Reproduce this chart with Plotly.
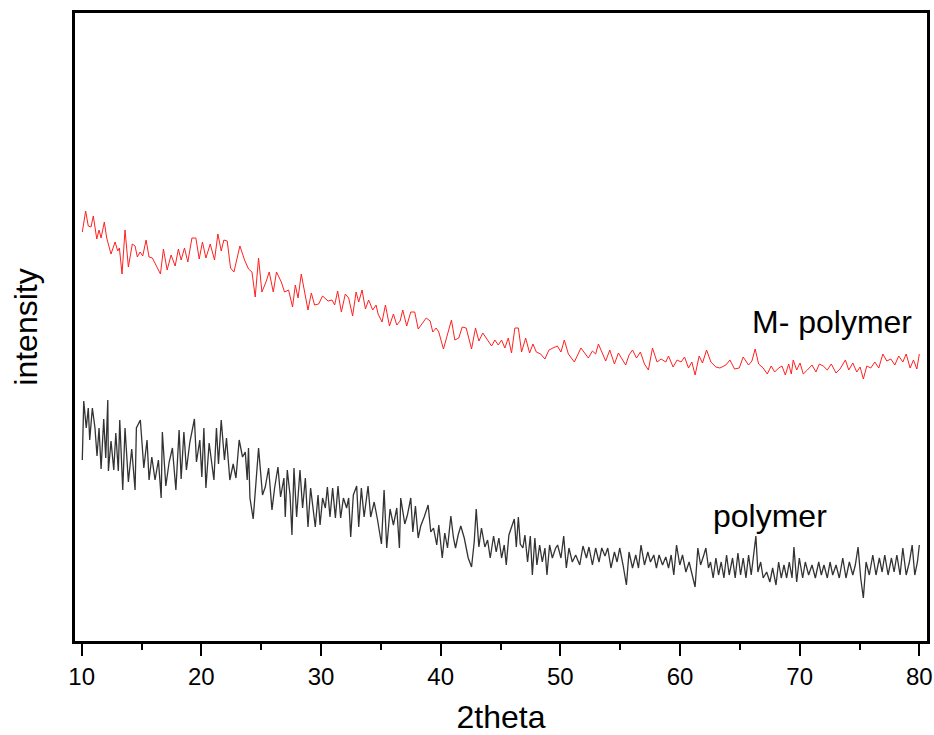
import plotly.graph_objects as go

# ---------------- data (2theta in degrees, intensity in a.u.) ----------------
m_polymer_2theta = (
    [10.05,10.33,10.55,10.78,10.97,11.26,11.45,11.62,11.89,12.09,
     12.45,12.79,13.01,13.15,13.37,13.62,13.90,14.23,14.46,14.65,
     14.88,15.10,15.38,15.63,15.91,16.22,16.58,16.83,17.14,17.47,
     17.81,18.08,18.31,18.59,18.87,19.21,19.54,19.82,20.09,20.38,
     20.74,21.10,21.38,21.66,21.88,22.16,22.44,22.72,23.22,23.61,
     23.94,24.23,24.50,24.78,25.06,25.40,25.67,26.01,26.28,26.68,
     26.95,27.29,27.62,27.85]
    + [28.08,28.35,28.63,28.91,29.19,29.46,29.80,30.13,30.59,30.92,
       31.14,31.39,31.70,32.03,32.31,32.64,32.93,33.15,33.43,33.71,
       33.98,34.32,34.60,34.77,35.10,35.38,35.72,36.05,36.33,36.61,
       36.83,37.16,37.50,37.83,38.12,38.45,38.79,39.12,39.34,39.62,
       39.84,40.23,40.63,40.90,41.18,41.51,41.80,42.13,42.58,42.91,
       43.19,43.52,43.86,44.25,44.53,44.81,45.09,45.36]
    + [45.65,45.92,46.20,46.49,46.76,47.10,47.43,47.71,47.99,48.35,
       48.71,49.05,49.38,49.75,50.05,50.33,50.67,51.17,51.72,52.06,
       52.34,52.68,52.95,53.18,53.51,53.79,54.13,54.52,54.85,55.13,
       55.46,55.74,56.03,56.36,56.69,57.03,57.36,57.70,58.08,58.42,
       58.81,59.04,59.42,59.76,60.09,60.38,60.71,60.99,61.26,61.60,
       61.88,62.22,62.58,63.00]
    + [63.33,63.83,64.17,64.56,64.95,65.28,65.73,66.01,66.28,66.57,
       66.95,67.29,67.62,67.91,68.24,68.52,68.80,69.08,69.30,69.46,
       69.75,70.03,70.30,70.64,71.03,71.36,71.64,71.97,72.31,72.64,
       73.04,73.37,73.82,74.10,74.44,74.77,75.05,75.32,75.61,75.94,
       76.28,76.61,76.95,77.28,77.62,77.95,78.28,78.62,78.90,79.23,
       79.51,79.79,80.00]
)
m_polymer_intensity = (
    [409,430,415,414,425,402,411,403,419,403,
     387,399,390,393,367,411,374,397,395,384,
     389,385,401,384,383,376,367,392,371,386,
     375,392,381,393,379,403,403,382,399,383,
     397,381,407,390,401,400,373,369,395,381,
     372,369,344,383,349,359,369,349,369,359,
     349,351,334,356]
    + [343,367,349,331,348,336,337,345,340,341,
       336,350,329,347,343,325,349,339,351,332,
       341,331,336,327,319,336,315,327,316,320,
       331,315,329,329,312,317,323,320,309,313,
       309,292,310,321,301,303,314,313,292,313,
       300,308,302,295,301,296,301,293]
    + [303,288,313,313,289,303,288,297,289,287,
       282,291,293,295,289,301,287,279,293,287,
       283,290,287,297,287,280,291,277,288,283,
       276,286,291,283,289,277,271,293,279,282,
       279,285,274,281,279,284,273,279,266,285,
       278,291,279,274]
    + [273,276,281,272,273,284,276,280,292,277,
       273,267,275,269,273,275,266,277,267,281,
       271,278,267,271,276,269,277,275,271,277,
       268,272,281,271,278,269,274,262,275,273,
       279,273,287,280,282,276,285,279,287,273,
       281,272,287]
)

polymer_2theta = (
    [10.05,10.17,10.38,10.55,10.67,10.89,11.11,11.28,11.45,11.62,
     11.84,12.01,12.18,12.23,12.45,12.68,12.85,13.06,13.18,13.43,
     13.62,13.90,14.18,14.46,14.57,14.90,15.19,15.46,15.63,15.86,
     16.13,16.41,16.64,16.74,17.03,17.31,17.58,17.87,18.14,18.31,
     18.54,18.75,19.04,19.42,19.59,19.87,20.04,20.21,20.38,20.65,
     21.05,21.26,21.43,21.66,21.93,22.10,22.38,22.66,22.89,23.16,
     23.44,23.67,23.83,23.94,24.06,24.33,24.56,24.78,25.11,25.34,
     25.62,25.90,26.12,26.40,26.62,26.90,27.01,27.18,27.41,27.57,
     27.74]
    + [27.96,28.24,28.46,28.69,28.91,29.13,29.30,29.52,29.75,29.92,
       30.13,30.36,30.53,30.75,30.97,31.20,31.42,31.64,31.87,32.14,
       32.31,32.48,32.70,32.98,33.15,33.37,33.60,33.93,34.15,34.44,
       34.71,35.05,35.27,35.49,35.77,36.05,36.33,36.55,36.66,37.00,
       37.22,37.50,37.67,37.89,38.12,38.33,38.62,38.95,39.17,39.40,
       39.67,39.84,40.13,40.34,40.57,40.85,41.07,41.24,41.46,41.68,
       41.97,42.30,42.58,42.80,42.97,43.19,43.41,43.69,43.92,44.14,
       44.42,44.64,44.86,45.09,45.31]
    + [45.48,45.70,45.92,46.15,46.32,46.49,46.65,46.87,47.04,47.26,
       47.49,47.66,47.87,48.04,48.27,48.49,48.71,48.88,49.10,49.33,
       49.61,49.77,50.05,50.28,50.50,50.72,51.00,51.28,51.62,51.89,
       52.18,52.39,52.68,52.95,53.23,53.46,53.73,53.96,54.23,54.52,
       54.74,54.96,55.24,55.52,55.74,56.03,56.30,56.53,56.74,57.03,
       57.31,57.53,57.81,58.03,58.25,58.54,58.81,59.04,59.26,59.48,
       59.71,59.98,60.21,60.49,60.76,61.05,61.26,61.49,61.72,61.99]
    + [62.16,62.38,62.55,62.77,63.00,63.22,63.44,63.67,63.89,64.11,
       64.39,64.61,64.84,65.06,65.28,65.51,65.73,65.95,66.18,66.34,
       66.51,66.74,66.95,67.24,67.51,67.74,68.02,68.24,68.46,68.69,
       68.91,69.13,69.36,69.52,69.75,69.97,70.25,70.47,70.75,71.03,
       71.31,71.59,71.81,72.03,72.31,72.54,72.76,73.04,73.31,73.60,
       73.87,74.15,74.44,74.65,74.88,75.10,75.32,75.55,75.82,76.11,
       76.38,76.66,76.89,77.11,77.39,77.67,77.89,78.12,78.39,78.62,
       78.90,79.17,79.40,79.62,79.84,80.00]
)
polymer_intensity = (
    [181,240,213,233,201,233,213,185,213,172,
     222,183,241,170,200,171,208,170,221,151,
     213,159,192,151,213,221,173,201,161,184,
     161,181,143,209,155,179,193,151,211,162,
     209,171,199,222,179,201,164,213,153,198,
     161,213,177,221,181,203,161,177,163,201,
     184,189,161,193,143,122,158,193,146,154,
     173,131,153,174,144,163,124,171,146,106,
     173]
    + [124,171,133,163,114,153,134,114,146,116,
       143,133,154,124,153,123,155,123,143,133,
       143,104,146,155,114,153,124,155,124,139,
       122,97,151,93,132,116,133,93,143,117,
       126,143,109,135,103,115,124,136,109,113,
       96,116,83,108,93,125,103,93,106,115,
       103,83,74,99,132,94,113,94,101,83,
       105,89,103,83,96]
    + [76,106,113,122,94,124,97,93,106,79,
       105,66,103,76,96,79,93,66,96,83,
       93,96,83,105,73,93,79,86,76,95,
       83,94,76,93,79,93,85,93,73,89,
       79,93,76,56,89,73,86,73,96,76,
       89,79,86,73,86,76,84,73,86,66,
       96,76,86,69,79,66,54,93,76,86]
    + [93,73,79,63,83,66,79,63,86,66,
       83,63,88,66,83,63,86,66,89,105,
       69,79,63,69,59,73,56,79,63,76,
       63,79,63,94,59,83,63,79,66,76,
       63,79,66,76,63,79,66,76,63,83,
       63,79,66,76,94,63,43,79,66,86,
       66,83,69,86,66,83,69,86,66,93,
       66,79,96,66,79,96]
)

x_ticks = [10, 20, 30, 40, 50, 60, 70, 80]
series_labels = ["M- polymer", "polymer"]

FONT = "Liberation Sans, Arial, Helvetica, sans-serif"

fig = go.Figure()
fig.add_trace(go.Scatter(x=m_polymer_2theta, y=m_polymer_intensity, mode="lines",
                         line=dict(color="#ff2020", width=1), name=series_labels[0]))
fig.add_trace(go.Scatter(x=polymer_2theta, y=polymer_intensity, mode="lines",
                         line=dict(color="#333333", width=1.3), name=series_labels[1]))

fig.add_annotation(x=65.85, y=319, xref="x", yref="y", text=series_labels[0],
                   showarrow=False, xanchor="left", yanchor="middle",
                   font=dict(family=FONT, size=32, color="black"))
fig.add_annotation(x=62.59, y=125, xref="x", yref="y", text=series_labels[1],
                   showarrow=False, xanchor="left", yanchor="middle",
                   font=dict(family=FONT, size=32, color="black"))

fig.update_layout(
    width=934, height=735,
    margin=dict(l=75, r=7, t=13, b=94, autoexpand=False),
    paper_bgcolor="white", plot_bgcolor="white",
    showlegend=False,
    font=dict(family=FONT, color="black"),
)
fig.update_xaxes(
    range=[9.44, 80.64], tickvals=x_ticks, ticktext=[str(v) for v in x_ticks],
    showgrid=False, zeroline=False,
    showline=True, linecolor="black", linewidth=2.5, mirror=True,
    ticks="outside", ticklen=12, tickwidth=2, tickcolor="black",
    minor=dict(dtick=5, tick0=5, ticks="outside", ticklen=6, tickwidth=2, tickcolor="black"),
    tickfont=dict(family=FONT, size=24, color="black"),
    title=dict(text="2theta", font=dict(family=FONT, size=32, color="black"), standoff=22),
    automargin=False,
)
fig.update_yaxes(
    range=[0, 628], showticklabels=False, ticks="",
    showgrid=False, zeroline=False,
    showline=True, linecolor="black", linewidth=2.5, mirror=True,
    title=dict(text="intensity", font=dict(family=FONT, size=32, color="black"), standoff=26),
    automargin=False,
)

fig.write_html(
    "out.html",
    config={"displayModeBar": False},
    post_script="document.body.style.margin='0px'; document.body.style.overflow='hidden';",
)
